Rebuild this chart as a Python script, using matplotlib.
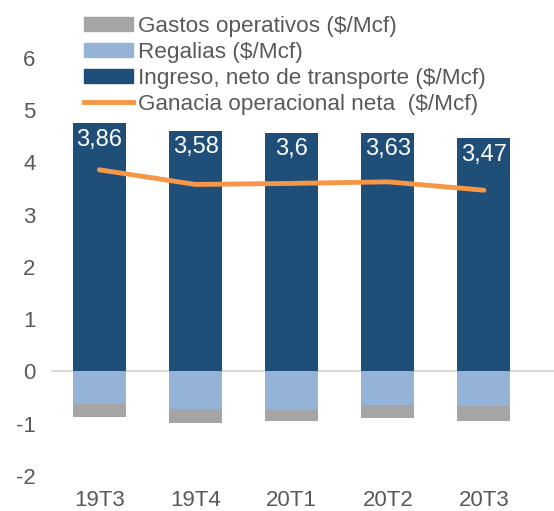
import matplotlib
matplotlib.use("Agg")
import matplotlib.pyplot as plt
from matplotlib.patches import Patch
from matplotlib.lines import Line2D
import numpy as np

plt.rcParams['font.family'] = ['Liberation Sans', 'DejaVu Sans']
plt.rcParams['axes.unicode_minus'] = False

quarters = ['19T3', '19T4', '20T1', '20T2', '20T3']
ingreso = [4.76, 4.61, 4.57, 4.57, 4.46]
regalias = [-0.63, -0.72, -0.73, -0.64, -0.66]
gastos = [-0.25, -0.27, -0.21, -0.25, -0.29]
ganancia = [3.86, 3.58, 3.6, 3.63, 3.47]
labels = ['3,86', '3,58', '3,6', '3,63', '3,47']

c_dark = '#1F4E79'
c_light = '#95B3D7'
c_gray = '#A5A5A5'
c_orange = '#F79646'
c_text = '#595959'

fig = plt.figure(figsize=(5.54, 5.11), dpi=100)
ax = fig.add_axes([0.092, 0.0685, 0.908, 0.818])

x = np.arange(len(quarters))
w = 0.55
ax.bar(x, ingreso, w, color=c_dark, zorder=2)
ax.bar(x, regalias, w, color=c_light, zorder=2)
ax.bar(x, gastos, w, bottom=regalias, color=c_gray, zorder=2)
ax.plot(x, ganancia, color=c_orange, lw=3.5, zorder=3, solid_capstyle='round')
ax.axhline(0, color='#D9D9D9', lw=1.5, zorder=1)

for xi, top, lab in zip(x, ingreso, labels):
    ax.text(xi, top - 0.32, lab, ha='center', va='center', color='white', fontsize=17, zorder=4)

ax.set_xlim(-0.505, 4.73)
ax.set_ylim(-2, 6)
ax.set_yticks(range(-2, 7))
ax.set_xticks(x)
ax.set_xticklabels(quarters)
ax.tick_params(axis='both', length=0, colors=c_text, labelsize=16)
ax.tick_params(axis='y', pad=11)
ax.tick_params(axis='x', pad=10)
for s in ax.spines.values():
    s.set_visible(False)

handles = [Patch(color=c_gray), Patch(color=c_light), Patch(color=c_dark),
           Line2D([0], [0], color=c_orange, lw=3.5)]
names = ['Gastos operativos ($/Mcf)', 'Regalias ($/Mcf)',
         'Ingreso, neto de transporte ($/Mcf)', 'Ganacia operacional neta  ($/Mcf)']
leg = fig.legend(handles, names, loc='upper left', bbox_to_anchor=(0.128, 0.995),
                 frameon=False, fontsize=16.2, handlelength=2.15, handleheight=0.59,
                 handletextpad=0.22, labelspacing=0.22, borderaxespad=0.2)
for t in leg.get_texts():
    t.set_color(c_text)

fig.savefig('out.png', dpi=100)
